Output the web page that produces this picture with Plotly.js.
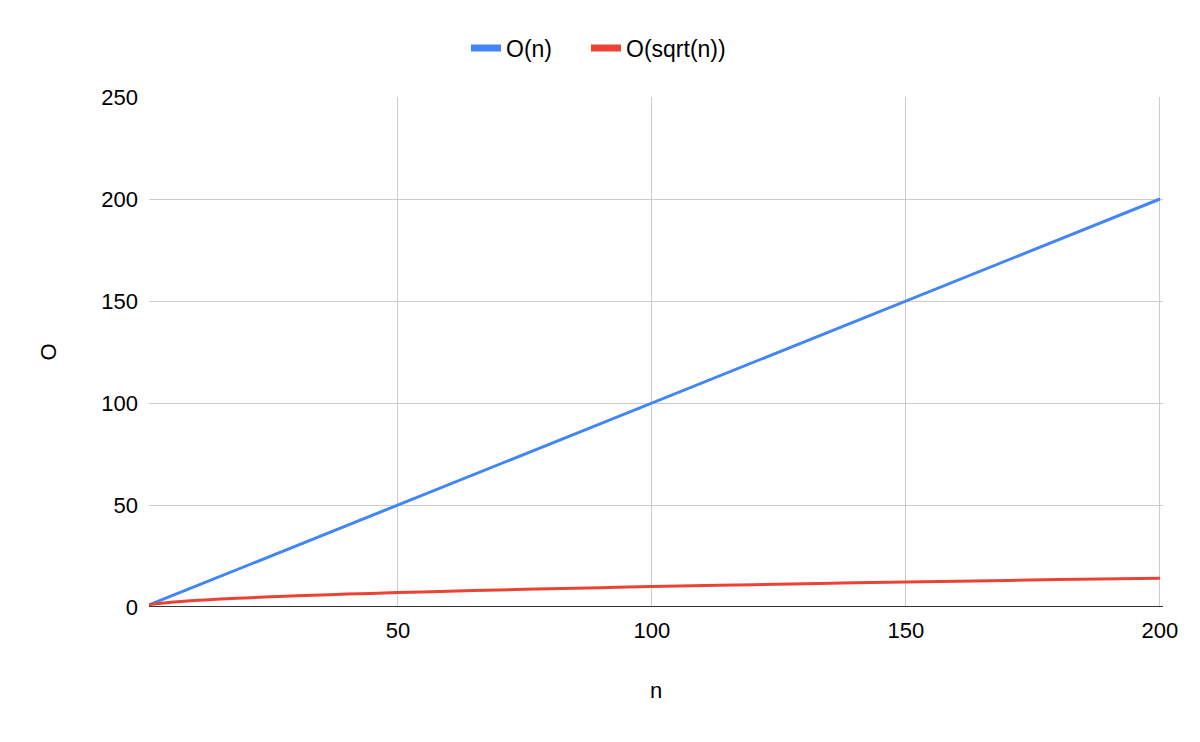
<!DOCTYPE html>
<html>
<head>
<meta charset="utf-8">
<script src="https://cdn.plot.ly/plotly-3.0.1.min.js"></script>
<style>html,body{margin:0;padding:0;background:#fff;}#chart{width:1200px;height:742px;}</style>
</head>
<body>
<div id="chart"></div>
<script>
var nValues = [1, 2, 3, 4, 5, 6, 8, 10, 12, 15, 20, 25, 30, 40, 50, 60, 70, 80, 90, 100, 120, 140, 160, 180, 200];
var linearValues = [1, 2, 3, 4, 5, 6, 8, 10, 12, 15, 20, 25, 30, 40, 50, 60, 70, 80, 90, 100, 120, 140, 160, 180, 200];
var sqrtValues = [1, 1.41, 1.73, 2, 2.24, 2.45, 2.83, 3.16, 3.46, 3.87, 4.47, 5, 5.48, 6.32, 7.07, 7.75, 8.37, 8.94, 9.49, 10, 10.95, 11.83, 12.65, 13.42, 14.14];
var seriesNames = ["O(n)", "O(sqrt(n))"];
var seriesColors = ["#4285F4", "#EA4335"];
var xTicks = [50, 100, 150, 200];
var yTicks = [0, 50, 100, 150, 200, 250];

var font = {family: "Liberation Sans, Arial, sans-serif", size: 22, color: "#000"};
var legendFont = {family: "Liberation Sans, Arial, sans-serif", size: 23, color: "#000"};

var traces = [
  {x: nValues, y: linearValues, name: seriesNames[0], mode: "lines", type: "scatter",
   line: {color: seriesColors[0], width: 3}, showlegend: false},
  {x: nValues, y: sqrtValues, name: seriesNames[1], mode: "lines", type: "scatter",
   line: {color: seriesColors[1], width: 3, shape: "spline"}, showlegend: false},
  // legend entries (thick swatches)
  {x: [null], y: [null], name: seriesNames[0], mode: "lines", type: "scatter",
   line: {color: seriesColors[0], width: 7}, showlegend: true, legend: "legend"},
  {x: [null], y: [null], name: seriesNames[1], mode: "lines", type: "scatter",
   line: {color: seriesColors[1], width: 7}, showlegend: true, legend: "legend2"}
];

var legendBase = {orientation: "h", xanchor: "left", xref: "container",
  y: 1 - 48/742, yref: "container", yanchor: "middle",
  font: legendFont, itemwidth: 30, bgcolor: "rgba(0,0,0,0)"};

var layout = {
  width: 1200, height: 742,
  margin: {l: 149, r: 37, t: 97, b: 135},
  paper_bgcolor: "#fff", plot_bgcolor: "#fff",
  font: font,
  showlegend: true,
  legend: Object.assign({}, legendBase, {x: 466/1200}),
  legend2: Object.assign({}, legendBase, {x: 586/1200}),
  xaxis: {
    range: [1, 200.6], tickvals: xTicks, ticktext: xTicks.map(String),
    showgrid: true, gridcolor: "#cccccc", gridwidth: 1,
    zeroline: false, showline: false, ticks: "", ticklen: 0,
    ticklabelstandoff: 8,
    tickfont: font,
    title: {text: "n", font: font, standoff: 40}
  },
  yaxis: {
    range: [0, 250], tickvals: yTicks, ticktext: yTicks.map(String),
    showgrid: true, gridcolor: "#cccccc", gridwidth: 1,
    zeroline: false, showline: false, ticks: "", ticklen: 0,
    ticklabelstandoff: 10,
    tickfont: font,
    title: {text: "O", font: font, standoff: 38}
  },
  shapes: [
    {type: "line", xref: "paper", yref: "y", x0: 0, x1: 1, y0: 0, y1: 0,
     line: {color: "#333333", width: 2}, layer: "above"}
  ]
};

Plotly.newPlot("chart", traces, layout, {displayModeBar: false, staticPlot: true});
</script>
</body>
</html>
